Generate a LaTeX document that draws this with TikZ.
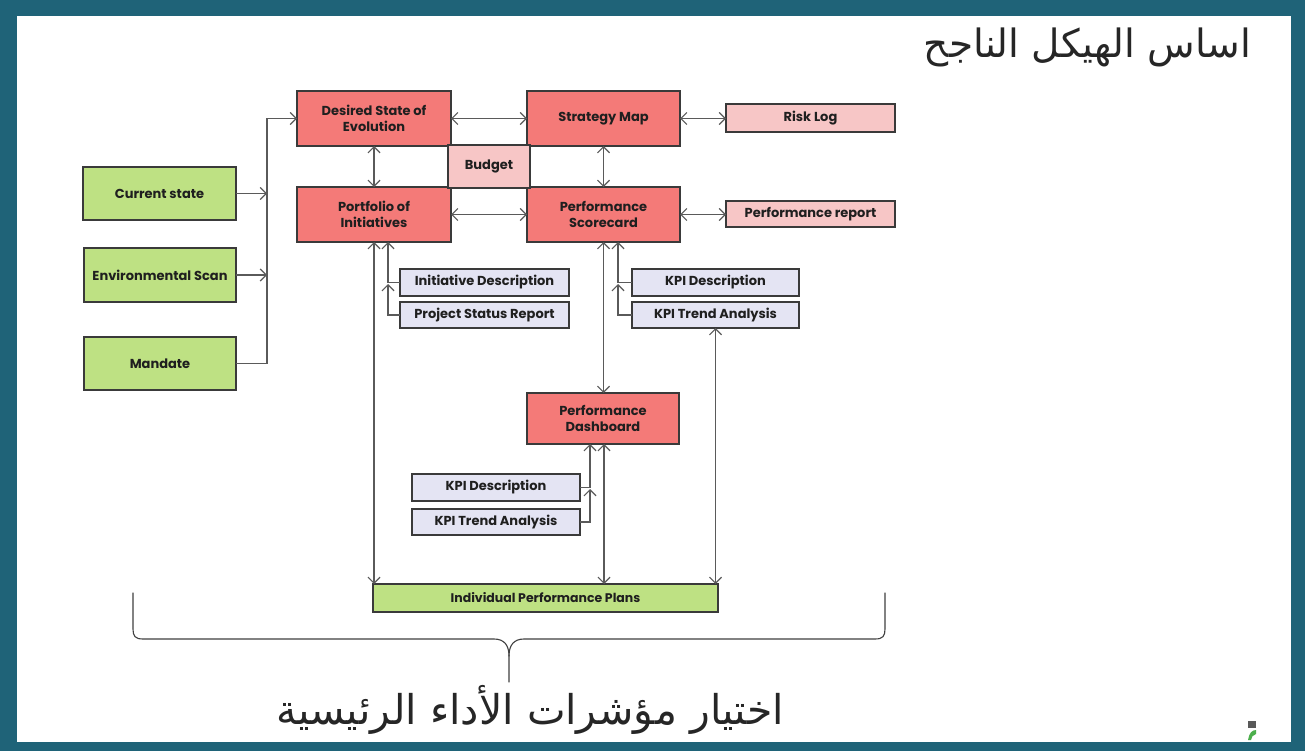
\documentclass[tikz,border=0pt]{standalone}
\usepackage{fontspec}
\usetikzlibrary{arrows.meta}
\setmainfont{Poppins}
\newfontfamily\arabicfont[Script=Arabic]{DejaVu Sans}
\TeXXeTstate=1

\definecolor{frameteal}{HTML}{1F6378}
\definecolor{boxred}{HTML}{F47A78}
\definecolor{boxpink}{HTML}{F7C6C6}
\definecolor{boxgreen}{HTML}{BEE183}
\definecolor{boxlav}{HTML}{E4E4F3}
\definecolor{edge}{HTML}{3A3A3A}
\definecolor{wire}{HTML}{5A5A5A}

\tikzset{
  box/.style={draw=edge, line width=1.3pt, inner sep=0pt, outer sep=0pt,
    align=center, text=black!88, font=\fontsize{13}{16}\selectfont\bfseries},
  redbox/.style={box, fill=boxred},
  pinkbox/.style={box, fill=boxpink},
  greenbox/.style={box, fill=boxgreen},
  lavbox/.style={box, fill=boxlav},
  wireline/.style={draw=wire, line width=1.2pt},
  arr/.style={wireline, -{Straight Barb[length=6pt,width=12pt]}},
  dbl/.style={wireline, {Straight Barb[length=6pt,width=12pt]}-{Straight Barb[length=6pt,width=12pt]}},
  bracket/.style={draw=black!75, line width=1.1pt, line cap=round}
}

\begin{document}
\begin{tikzpicture}[x=1pt,y=-1pt]
% frame
\fill[frameteal] (0,0) rectangle (1305,751);
\fill[white] (17,16) rectangle (1291,742);
\useasboundingbox (0,0) rectangle (1305,751);

% title
\node[anchor=east, inner sep=0pt, text=black!85] (title) at (1251,47)
  {\arabicfont\fontsize{39}{44}\selectfont\beginR اساس الهيكل الناجح\endR};

% inputs
\node[greenbox, minimum width=153pt, minimum height=53pt] (current) at (159.5,193.5) {Current state};
\node[greenbox, minimum width=152pt, minimum height=54pt] (envscan) at (160,275) {Environmental Scan};
\node[greenbox, minimum width=152pt, minimum height=53pt] (mandate) at (160,363.5) {Mandate};

% core blocks
\node[redbox, minimum width=154pt, minimum height=55pt] (desired) at (374,118.5) {Desired State of\\Evolution};
\node[redbox, minimum width=153pt, minimum height=55pt] (strategy) at (603.5,118.5) {Strategy Map};
\node[redbox, minimum width=154pt, minimum height=55pt] (portfolio) at (374,214.5) {Portfolio of\\Initiatives};
\node[redbox, minimum width=153pt, minimum height=55pt] (scorecard) at (603.5,214.5) {Performance\\Scorecard};
\node[pinkbox, minimum width=82pt, minimum height=43pt] (budget) at (489,166.5) {Budget};
\node[pinkbox, minimum width=169pt, minimum height=28pt] (risk) at (810.5,118) {Risk Log};
\node[pinkbox, minimum width=169pt, minimum height=26pt] (perfrep) at (810.5,214) {Performance report};

% supporting documents
\node[lavbox, minimum width=169pt, minimum height=27pt] (initdesc) at (484.5,282.5) {Initiative Description};
\node[lavbox, minimum width=169pt, minimum height=26pt] (psr) at (484.5,315) {Project Status Report};
\node[lavbox, minimum width=167pt, minimum height=27pt] (kpidA) at (715.5,282.5) {KPI Description};
\node[lavbox, minimum width=167pt, minimum height=26pt] (kpitA) at (715.5,315) {KPI Trend Analysis};

\node[redbox, minimum width=152pt, minimum height=51pt] (dashboard) at (603,418.5) {Performance\\Dashboard};
\node[lavbox, minimum width=168pt, minimum height=27pt] (kpidB) at (496,487.5) {KPI Description};
\node[lavbox, minimum width=168pt, minimum height=26pt] (kpitB) at (496,522) {KPI Trend Analysis};

\node[greenbox, minimum width=345pt, minimum height=28pt, font=\fontsize{12.5}{14}\selectfont\bfseries] (ipp) at (545.5,598) {Individual Performance Plans};

% input spine
\coordinate (spineTop) at (267,118.5);
\draw[arr] (current.east) -- (current.east -| spineTop);
\draw[arr] (envscan.east) -- (envscan.east -| spineTop);
\draw[arr] (mandate.east) -| (spineTop) -- (desired.west);

% core links
\draw[dbl] (desired.east) -- (strategy.west);
\draw[dbl] (desired.south) -- (portfolio.north);
\draw[dbl] (strategy.south) -- (scorecard.north);
\draw[dbl] (portfolio.east) -- (scorecard.west);
\draw[dbl] (strategy.east) -- (strategy.east -| risk.west);
\draw[dbl] (scorecard.east) -- (scorecard.east -| perfrep.west);

% portfolio feeds
\coordinate (portR) at ([xshift=14pt]portfolio.south);
\coordinate (portJ) at (portR |- initdesc.west);
\draw[dbl] (portfolio.south) -- (portfolio.south |- ipp.north);
\draw[arr] (initdesc.west) -| (portR);
\draw[arr, shorten >=1.5pt] (psr.west) -| (portJ);

% scorecard feeds
\coordinate (scR) at ([xshift=14.5pt]scorecard.south);
\coordinate (scJ) at (scR |- kpidA.west);
\draw[dbl] (scorecard.south) -- (scorecard.south |- dashboard.north);
\draw[arr] (kpidA.west) -| (scR);
\draw[arr, shorten >=1.5pt] (kpitA.west) -| (scJ);
\draw[dbl] (kpitA.south) -- (kpitA.south |- ipp.north);

% dashboard feeds
\coordinate (dbL) at ([xshift=-13pt]dashboard.south);
\coordinate (dbJ) at (dbL |- kpidB.east);
\draw[dbl] ([xshift=1pt]dashboard.south) -- ([xshift=1pt]dashboard.south |- ipp.north);
\draw[arr] (kpidB.east) -| (dbL);
\draw[arr, shorten >=1.5pt] (kpitB.east) -| (dbJ);

% grouping brace
\draw[bracket] (133,593) -- (133,629) .. controls (133,636) and (135,639) .. (143,639)
  -- (494,639) .. controls (504,639) and (509,645) .. (509,656) -- (509,682);
\draw[bracket] (885,593) -- (885,629) .. controls (885,636) and (883,639) .. (875,639)
  -- (524,639) .. controls (514,639) and (509,645) .. (509,656);

\node[inner sep=0pt, text=black!85] (caption) at (530,710)
  {\arabicfont\fontsize{41}{46}\selectfont\beginR اختيار مؤشرات الأداء الرئيسية\endR};

% corner mark
\fill[black!65] (1248,721) rectangle (1256,728);
\fill[green!55!black!70] (1248,740) .. controls (1249,733) and (1252,730) .. (1256,730) -- (1256,734) .. controls (1253,735) and (1251,737) .. (1251,740) -- cycle;
\end{tikzpicture}
\end{document}
